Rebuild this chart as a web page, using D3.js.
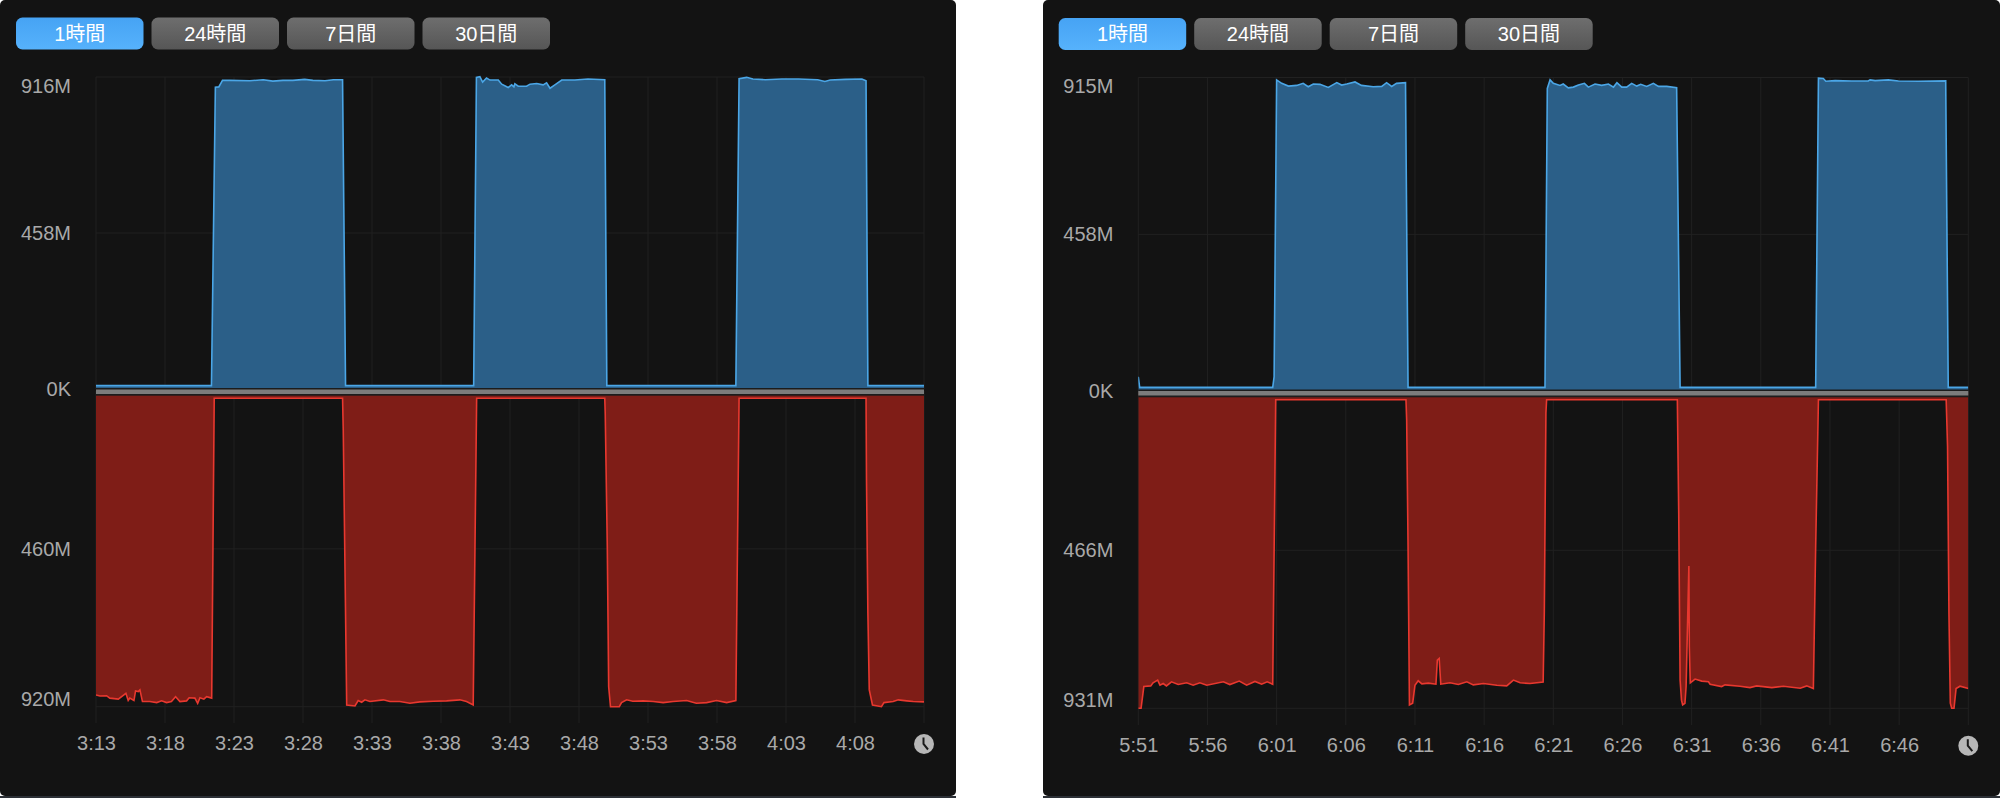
<!DOCTYPE html>
<html>
<head>
    <script src="https://cdnjs.cloudflare.com/ajax/libs/d3/7.8.5/d3.min.js"></script>
    <style>
        html, body {
            padding: 0;
            margin: 0;
            background: #ffffff;
        }
        svg {
            display: block;
        }
    </style>
</head>
<body>

<script>
    // range buttons
    var buttonLabels = ["1時間", "24時間", "7日間", "30日間"];

    // tick labels
    var leftTimeLabels = ["3:13", "3:18", "3:23", "3:28", "3:33", "3:38", "3:43", "3:48", "3:53", "3:58", "4:03", "4:08"];
    var rightTimeLabels = ["5:51", "5:56", "6:01", "6:06", "6:11", "6:16", "6:21", "6:26", "6:31", "6:36", "6:41", "6:46"];
    var leftUpTicks = [[916, "916M"], [458, "458M"], [0, "0K"]];
    var leftDownTicks = [[460, "460M"], [920, "920M"]];
    var rightUpTicks = [[915, "915M"], [458, "458M"], [0, "0K"]];
    var rightDownTicks = [[466, "466M"], [931, "931M"]];

    // series: [minutes after the first tick, megabytes]
    var leftUp = [
        [0, 10], [8.37, 10], [8.66, 886], [8.9, 887], [9.18, 906], [9.7, 906], [11.16, 905], [12.12, 908],
        [12.83, 904], [13.55, 906], [14.28, 906], [15.14, 909], [15.72, 906], [16.6, 905], [17.2, 908], [17.87, 908],
        [18.09, 10], [27.37, 10], [27.58, 915], [27.83, 917], [28.02, 901], [28.31, 913], [28.55, 907], [29.15, 907],
        [29.4, 895], [29.88, 885], [30.12, 893], [30.29, 887], [30.36, 896], [30.6, 889], [31.2, 889], [31.45, 895],
        [31.94, 897], [32.4, 893], [32.65, 899], [32.9, 883], [33.26, 893], [33.75, 907], [34.7, 907], [35.65, 910],
        [36.88, 908], [37.03, 10], [46.38, 10], [46.6, 911], [47.15, 915], [47.6, 910], [48.5, 908], [49.7, 910],
        [50.9, 910], [52.3, 908], [52.83, 903], [53.2, 907], [54.3, 909], [55.5, 910], [55.8, 905], [55.94, 10],
        [60, 10]
    ];
    var leftDown = [
        [0, 886], [0.29, 889], [0.77, 888], [1.01, 895], [1.62, 898], [2.18, 881], [2.34, 902], [2.46, 895],
        [2.75, 902], [2.87, 874], [3.07, 876], [3.19, 871], [3.38, 905], [3.91, 905], [4.4, 908], [4.76, 903],
        [5.12, 908], [5.48, 905], [5.77, 891], [6.09, 905], [6.57, 903], [6.76, 894], [7.17, 895], [7.37, 910],
        [7.54, 894], [7.83, 898], [8.02, 891], [8.39, 895], [8.58, 21], [17.87, 21], [17.92, 114], [18.17, 915],
        [18.77, 918], [19.01, 902], [19.25, 907], [19.49, 900], [19.85, 905], [20.82, 900], [21.3, 905], [22.03, 905],
        [22.75, 910], [23.48, 906], [24.45, 904], [25.41, 903], [26.38, 900], [26.86, 905], [27.34, 915], [27.59, 21],
        [36.88, 21], [36.9, 65], [37.05, 454], [37.15, 862], [37.29, 920], [37.92, 920], [38.09, 908], [38.45, 900],
        [38.9, 904], [39.66, 903], [40.39, 905], [41.1, 908], [41.83, 905], [42.8, 902], [43.5, 910], [44.25, 908],
        [44.97, 902], [45.7, 908], [46.38, 902], [46.6, 21], [55.8, 21], [55.84, 259], [55.94, 647], [56.04, 871],
        [56.28, 915], [56.93, 920], [57.1, 908], [57.78, 905], [58.14, 900], [58.75, 903], [59.23, 905], [60, 906]
    ];
    var rightUp = [
        [0, 43], [0.1, 12], [9.72, 12], [9.83, 43], [10, 908], [10.37, 898], [10.85, 890], [11.45, 892],
        [11.93, 898], [12.29, 888], [12.65, 896], [13.14, 895], [13.74, 886], [14.35, 900], [14.7, 893], [15.07, 896],
        [15.67, 902], [16.15, 892], [16.99, 888], [17.6, 889], [17.96, 900], [18.32, 889], [18.68, 898], [19.33, 900],
        [19.5, 12], [29.4, 12], [29.57, 883], [29.77, 908], [30, 898], [30.49, 892], [30.73, 896], [31.09, 885],
        [31.45, 887], [31.82, 893], [32.25, 898], [32.54, 887], [33.03, 896], [33.51, 892], [33.99, 896], [34.35, 887],
        [34.6, 900], [34.96, 887], [35.31, 887], [35.68, 898], [36.04, 890], [36.33, 895], [36.76, 889], [37.24, 898],
        [37.6, 889], [38.2, 889], [38.93, 885], [39.17, 12], [48.97, 12], [49.17, 913], [49.53, 912], [49.7, 904],
        [50.38, 906], [51.58, 905], [52.78, 905], [52.9, 908], [53.27, 906], [54.23, 908], [54.95, 905], [56.4, 904],
        [58.38, 905], [58.55, 12], [60, 12]
    ];
    var rightDown = [
        [0, 931], [0.2, 931], [0.41, 867], [0.9, 865], [1.08, 856], [1.4, 848], [1.57, 863], [1.81, 858],
        [2.05, 865], [2.41, 853], [2.89, 861], [3.5, 856], [3.98, 863], [4.46, 856], [4.95, 863], [6.15, 853],
        [6.63, 861], [7.3, 851], [7.84, 863], [8.44, 852], [8.92, 860], [9.33, 853], [9.72, 860], [9.94, 23],
        [19.36, 23], [19.41, 82], [19.5, 455], [19.6, 921], [19.84, 916], [20, 863], [20.24, 850], [20.5, 859],
        [20.97, 857], [21.53, 860], [21.62, 789], [21.76, 784], [21.87, 860], [22.54, 856], [23.14, 861], [23.75, 853],
        [24.22, 862], [24.95, 858], [25.92, 863], [26.64, 865], [27.12, 848], [27.6, 856], [28.32, 858], [29.28, 854],
        [29.36, 648], [29.48, 62], [29.53, 23], [38.97, 23], [39.07, 357], [39.17, 848], [39.28, 907], [39.36, 921],
        [39.53, 916], [39.6, 867], [39.67, 750], [39.8, 512], [39.84, 750], [39.9, 856], [40.25, 845], [40.74, 851],
        [41.22, 853], [41.34, 860], [42.18, 867], [42.42, 862], [43.5, 866], [44.23, 870], [44.71, 865], [45.8, 870],
        [46.64, 866], [47.85, 872], [48.33, 865], [48.81, 873], [48.98, 455], [49.17, 23], [58.4, 23], [58.5, 161],
        [58.6, 651], [58.7, 916], [58.8, 931], [58.98, 931], [59.12, 873], [59.41, 866], [60, 873]
    ];

    var svg = d3.select("body").append("svg")
        .attr("width", 2000)
        .attr("height", 798);

    var fontFamily = "'Liberation Sans', 'Noto Sans CJK JP', sans-serif";
    var parseTime = d3.timeParse("%H:%M");
    var formatTime = d3.timeFormat("%-H:%M");

    var defs = svg.append("defs");

    function addGradient(id, top, bottom) {
        var g = defs.append("linearGradient")
            .attr("id", id)
            .attr("x1", 0).attr("y1", 0)
            .attr("x2", 0).attr("y2", 1);
        g.append("stop").attr("offset", "0%").attr("stop-color", top);
        g.append("stop").attr("offset", "100%").attr("stop-color", bottom);
    }
    addGradient("btnOn", "#46a3f4", "#56b2fc");
    addGradient("btnOff", "#6e6e6e", "#565656");

    // draw one whole window
    function drawPanel(p) {
        var g = svg.append("g");

        g.append("rect")
            .attr("x", p.left)
            .attr("y", 0)
            .attr("width", p.right - p.left)
            .attr("height", 796)
            .attr("rx", 5)
            .attr("fill", "#131313");

        // buttons
        var btn = g.selectAll(".btn")
            .data(buttonLabels)
            .enter().append("g")
            .attr("transform", function (d, i) {
                return "translate(" + (p.btnX + i * 135.5) + "," + p.btnY + ")";
            });
        btn.append("rect")
            .attr("width", 127.5)
            .attr("height", 32)
            .attr("rx", 6.5)
            .attr("fill", function (d, i) { return i == 0 ? "url(#btnOn)" : "url(#btnOff)"; });
        btn.append("text")
            .attr("x", 63.75)
            .attr("y", 23)
            .attr("text-anchor", "middle")
            .attr("font-family", fontFamily)
            .attr("font-size", 20)
            .attr("fill", "#ffffff")
            .text(function (d) { return d; });

        // scales
        var start = parseTime(p.timeLabels[0]);
        var x = d3.scaleTime()
            .domain([start, d3.timeMinute.offset(start, 60)])
            .range([p.x0, p.x1]);
        var upMax = p.upTicks[0][0];
        var downMax = p.downTicks[p.downTicks.length - 1][0];
        var yUp = d3.scaleLinear().domain([0, upMax]).range([p.upZero, p.upTop]);
        var yDown = d3.scaleLinear().domain([0, downMax]).range([p.downZero, p.downBottom]);

        function minuteX(d) {
            return x(d3.timeSecond.offset(start, d[0] * 60));
        }

        // grid
        var gridTimes = p.timeLabels.map(parseTime).concat([x.domain()[1]]);
        var grid = g.append("g")
            .attr("stroke", "#212121")
            .attr("stroke-width", 1);
        grid.selectAll(".vUp")
            .data(gridTimes)
            .enter().append("line")
            .attr("x1", function (d) { return x(d); })
            .attr("x2", function (d) { return x(d); })
            .attr("y1", p.upTop)
            .attr("y2", p.upZero);
        grid.selectAll(".vDown")
            .data(gridTimes)
            .enter().append("line")
            .attr("x1", function (d) { return x(d); })
            .attr("x2", function (d) { return x(d); })
            .attr("y1", p.downZero)
            .attr("y2", p.gridEnd);
        grid.selectAll(".hUp")
            .data(p.upTicks.slice(0, 2))
            .enter().append("line")
            .attr("x1", p.x0)
            .attr("x2", p.x1)
            .attr("y1", function (d) { return yUp(d[0]); })
            .attr("y2", function (d) { return yUp(d[0]); });
        grid.selectAll(".hDown")
            .data(p.downTicks)
            .enter().append("line")
            .attr("x1", p.x0)
            .attr("x2", p.x1)
            .attr("y1", function (d) { return yDown(d[0]); })
            .attr("y2", function (d) { return yDown(d[0]); });

        // series
        var clipId = "clip" + p.left;
        defs.append("clipPath").attr("id", clipId)
            .append("rect")
            .attr("x", p.x0)
            .attr("y", 0)
            .attr("width", p.x1 - p.x0)
            .attr("height", 798);
        var marks = g.append("g").attr("clip-path", "url(#" + clipId + ")");

        marks.append("path")
            .attr("d", d3.area().x(minuteX).y0(yUp(0)).y1(function (d) { return yUp(d[1]); })(p.up))
            .attr("fill", "#2b5f88");
        marks.append("path")
            .attr("d", d3.line().x(minuteX).y(function (d) { return yUp(d[1]); })(p.up))
            .attr("fill", "none")
            .attr("stroke", "#4ba6e6")
            .attr("stroke-width", 1.6);
        marks.append("path")
            .attr("d", d3.area().x(minuteX).y0(yDown(0)).y1(function (d) { return yDown(d[1]); })(p.down))
            .attr("fill", "#7f1d17");
        marks.append("path")
            .attr("d", d3.line().x(minuteX).y(function (d) { return yDown(d[1]); })(p.down))
            .attr("fill", "none")
            .attr("stroke", "#e8382f")
            .attr("stroke-width", 1.6);

        // divider between the two halves
        g.append("rect")
            .attr("x", p.x0)
            .attr("y", p.bandTop)
            .attr("width", p.x1 - p.x0)
            .attr("height", p.bandHeight)
            .attr("fill", "#1c1c1c");
        g.append("rect")
            .attr("x", p.x0)
            .attr("y", p.bandTop + 1.5)
            .attr("width", p.x1 - p.x0)
            .attr("height", 4.5)
            .attr("fill", "#7c7c7c");

        // axes
        var xAxis = d3.axisBottom(x)
            .tickValues(p.timeLabels.map(parseTime))
            .tickFormat(formatTime)
            .tickSize(0)
            .tickPadding(13);
        var xg = g.append("g")
            .attr("transform", "translate(0," + p.gridEnd + ")")
            .call(xAxis);

        var upAxis = d3.axisLeft(yUp)
            .tickValues(p.upTicks.map(function (d) { return d[0]; }))
            .tickFormat(function (v, i) { return p.upTicks[i][1]; })
            .tickSize(0)
            .tickPadding(25);
        var upG = g.append("g")
            .attr("transform", "translate(" + p.x0 + ",0)")
            .call(upAxis);

        var downAxis = d3.axisLeft(yDown)
            .tickValues(p.downTicks.map(function (d) { return d[0]; }))
            .tickFormat(function (v, i) { return p.downTicks[i][1]; })
            .tickSize(0)
            .tickPadding(25);
        var downG = g.append("g")
            .attr("transform", "translate(" + p.x0 + ",0)")
            .call(downAxis);

        // end labels sit inside the plot height
        upG.selectAll(".tick text").attr("dy", function (d, i) { return i == 0 ? "0.76em" : "0.32em"; });
        downG.selectAll(".tick text").attr("dy", function (d, i) { return i == 1 ? "-0.08em" : "0.32em"; });

        [xg, upG, downG].forEach(function (a) {
            a.select(".domain").remove();
            a.attr("font-family", fontFamily).attr("font-size", 20);
            a.selectAll("text").attr("fill", "#a9a9a9");
        });

        // clock
        var clock = g.append("g").attr("transform", "translate(" + p.x1 + "," + p.clockY + ")");
        clock.append("circle").attr("r", 10).attr("fill", "#b7b7b7");
        clock.append("path")
            .attr("d", "M-0.5,-6.5 L-0.5,0 L4,5.5")
            .attr("fill", "none")
            .attr("stroke", "#1a1a1a")
            .attr("stroke-width", 2);

        // thin strip under the window
        g.append("rect")
            .attr("x", p.left)
            .attr("y", 796)
            .attr("width", p.right - p.left)
            .attr("height", 2)
            .attr("fill", "#2c3036");
    }

    drawPanel({
        left: 0, right: 956, btnX: 16, btnY: 17.5,
        x0: 96, x1: 924, upTop: 77, upZero: 389, downZero: 391, downBottom: 706.7,
        gridEnd: 723, bandTop: 388, bandHeight: 7.7, clockY: 744,
        timeLabels: leftTimeLabels, upTicks: leftUpTicks, downTicks: leftDownTicks,
        up: leftUp, down: leftDown
    });
    drawPanel({
        left: 1043, right: 2000, btnX: 1058.7, btnY: 18,
        x0: 1138.3, x1: 1968.3, upTop: 77.5, upZero: 391.5, downZero: 392, downBottom: 708.3,
        gridEnd: 725, bandTop: 389.5, bandHeight: 7.8, clockY: 745.7,
        timeLabels: rightTimeLabels, upTicks: rightUpTicks, downTicks: rightDownTicks,
        up: rightUp, down: rightDown
    });
</script>
</body>
</html>
